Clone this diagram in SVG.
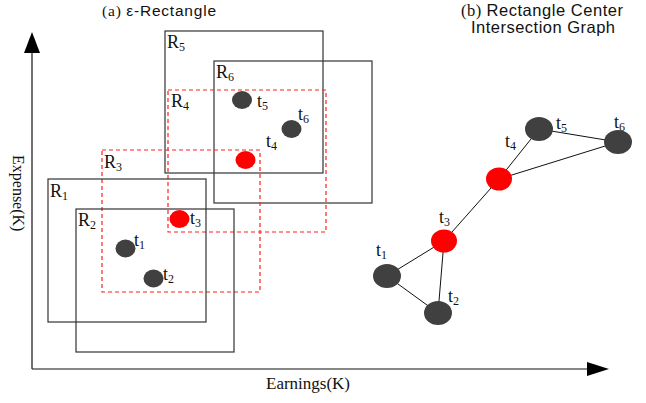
<svg xmlns="http://www.w3.org/2000/svg" width="646" height="403" viewBox="0 0 646 403">
<style>
text.lab{font-family:"Liberation Serif","Times New Roman",serif;font-size:18px;fill:#111}
tspan.sub{font-size:12px}
.serif{font-family:"Liberation Serif","Times New Roman",serif;fill:#111}
.sans{font-family:"Liberation Sans",Arial,sans-serif;fill:#111}
.box{fill:none;stroke:#333;stroke-width:1.2}
.dbox{fill:none;stroke:#ff2020;stroke-width:1.2;stroke-dasharray:4,3}
.dark{fill:#404040}
.red{fill:#ff0000}
.edge{stroke:#111;stroke-width:1;fill:none}
.axis{stroke:#111;stroke-width:1.2;fill:none}
</style>
<rect width="646" height="403" fill="#fff"/>
<g id="titles">
<text x="102" y="16" font-size="15.5" textLength="114" lengthAdjust="spacing"><tspan class="serif">(a) </tspan><tspan class="sans">ε-Rectangle</tspan></text>
<text x="461" y="16" font-size="16.5" textLength="162" lengthAdjust="spacing"><tspan class="serif">(b) </tspan><tspan class="sans">Rectangle Center</tspan></text>
<text x="471" y="33" font-size="16.5" class="sans" textLength="144" lengthAdjust="spacing">Intersection Graph</text>
</g>
<g id="axes">
<line class="axis" x1="32" y1="50" x2="32" y2="369"/>
<polygon points="32,32 24,53 40,53" fill="#000"/>
<line class="axis" x1="32" y1="369" x2="590" y2="369"/>
<polygon points="609,369 587,362 587,376" fill="#000"/>
<text class="serif" font-size="16" transform="translate(13,155) rotate(90)">Expense(K)</text>
<text class="serif" x="266" y="389" font-size="17">Earnings(K)</text>
</g>
<g id="R5"><rect class="box" x="165" y="31" width="158" height="142"/><text class="lab" x="167" y="48">R<tspan class="sub" dy="3">5</tspan></text></g>
<g id="R6"><rect class="box" x="214" y="61" width="158" height="142"/><text class="lab" x="216" y="78">R<tspan class="sub" dy="3">6</tspan></text></g>
<g id="R4"><rect class="dbox" x="168" y="90" width="158" height="142"/><text class="lab" x="171" y="107">R<tspan class="sub" dy="3">4</tspan></text></g>
<g id="R3"><rect class="dbox" x="102" y="150" width="158" height="142"/><text class="lab" x="104" y="168">R<tspan class="sub" dy="3">3</tspan></text></g>
<g id="R1"><rect class="box" x="48" y="179" width="158" height="143"/><text class="lab" x="50" y="197">R<tspan class="sub" dy="3">1</tspan></text></g>
<g id="R2"><rect class="box" x="76" y="209" width="158" height="143"/><text class="lab" x="78" y="226">R<tspan class="sub" dy="3">2</tspan></text></g>
<g id="points-a">
<g id="a-t5"><ellipse class="dark" cx="242" cy="100" rx="10" ry="9"/><text class="lab" x="257" y="107">t<tspan class="sub" dy="3">5</tspan></text></g>
<g id="a-t6"><ellipse class="dark" cx="291.5" cy="129" rx="10" ry="9"/><text class="lab" x="298" y="120">t<tspan class="sub" dy="3">6</tspan></text></g>
<g id="a-t4"><ellipse class="red" cx="245.5" cy="160" rx="10" ry="9"/><text class="lab" x="266" y="147">t<tspan class="sub" dy="3">4</tspan></text></g>
<g id="a-t3"><ellipse class="red" cx="179.5" cy="219" rx="10" ry="9"/><text class="lab" x="190" y="224">t<tspan class="sub" dy="3">3</tspan></text></g>
<g id="a-t1"><ellipse class="dark" cx="125.5" cy="248.5" rx="10" ry="9"/><text class="lab" x="134" y="246">t<tspan class="sub" dy="3">1</tspan></text></g>
<g id="a-t2"><ellipse class="dark" cx="153.5" cy="278.5" rx="10" ry="9"/><text class="lab" x="163" y="280">t<tspan class="sub" dy="3">2</tspan></text></g>
</g>
<g id="connectors">
<line class="edge" x1="499" y1="179" x2="539" y2="129"/>
<line class="edge" x1="539" y1="129" x2="618" y2="142"/>
<line class="edge" x1="618" y1="142" x2="499" y2="179"/>
<line class="edge" x1="499" y1="179" x2="444" y2="241"/>
<line class="edge" x1="444" y1="241" x2="387" y2="276"/>
<line class="edge" x1="444" y1="241" x2="438" y2="313"/>
<line class="edge" x1="387" y1="276" x2="438" y2="313"/>
</g>
<g id="b-t5"><ellipse class="dark" cx="539" cy="129" rx="14" ry="12"/><text class="lab" x="556" y="129">t<tspan class="sub" dy="3">5</tspan></text></g>
<g id="b-t6"><ellipse class="dark" cx="618" cy="142" rx="14" ry="12"/><text class="lab" x="614" y="128">t<tspan class="sub" dy="3">6</tspan></text></g>
<g id="b-t4"><ellipse class="red" cx="499" cy="179" rx="13" ry="11.5"/><text class="lab" x="505" y="147">t<tspan class="sub" dy="3">4</tspan></text></g>
<g id="b-t3"><ellipse class="red" cx="444" cy="241" rx="13" ry="11.5"/><text class="lab" x="439" y="223">t<tspan class="sub" dy="3">3</tspan></text></g>
<g id="b-t1"><ellipse class="dark" cx="387" cy="276" rx="14" ry="12"/><text class="lab" x="376" y="256">t<tspan class="sub" dy="3">1</tspan></text></g>
<g id="b-t2"><ellipse class="dark" cx="438" cy="313" rx="14" ry="12"/><text class="lab" x="448" y="302">t<tspan class="sub" dy="3">2</tspan></text></g>
</svg>
